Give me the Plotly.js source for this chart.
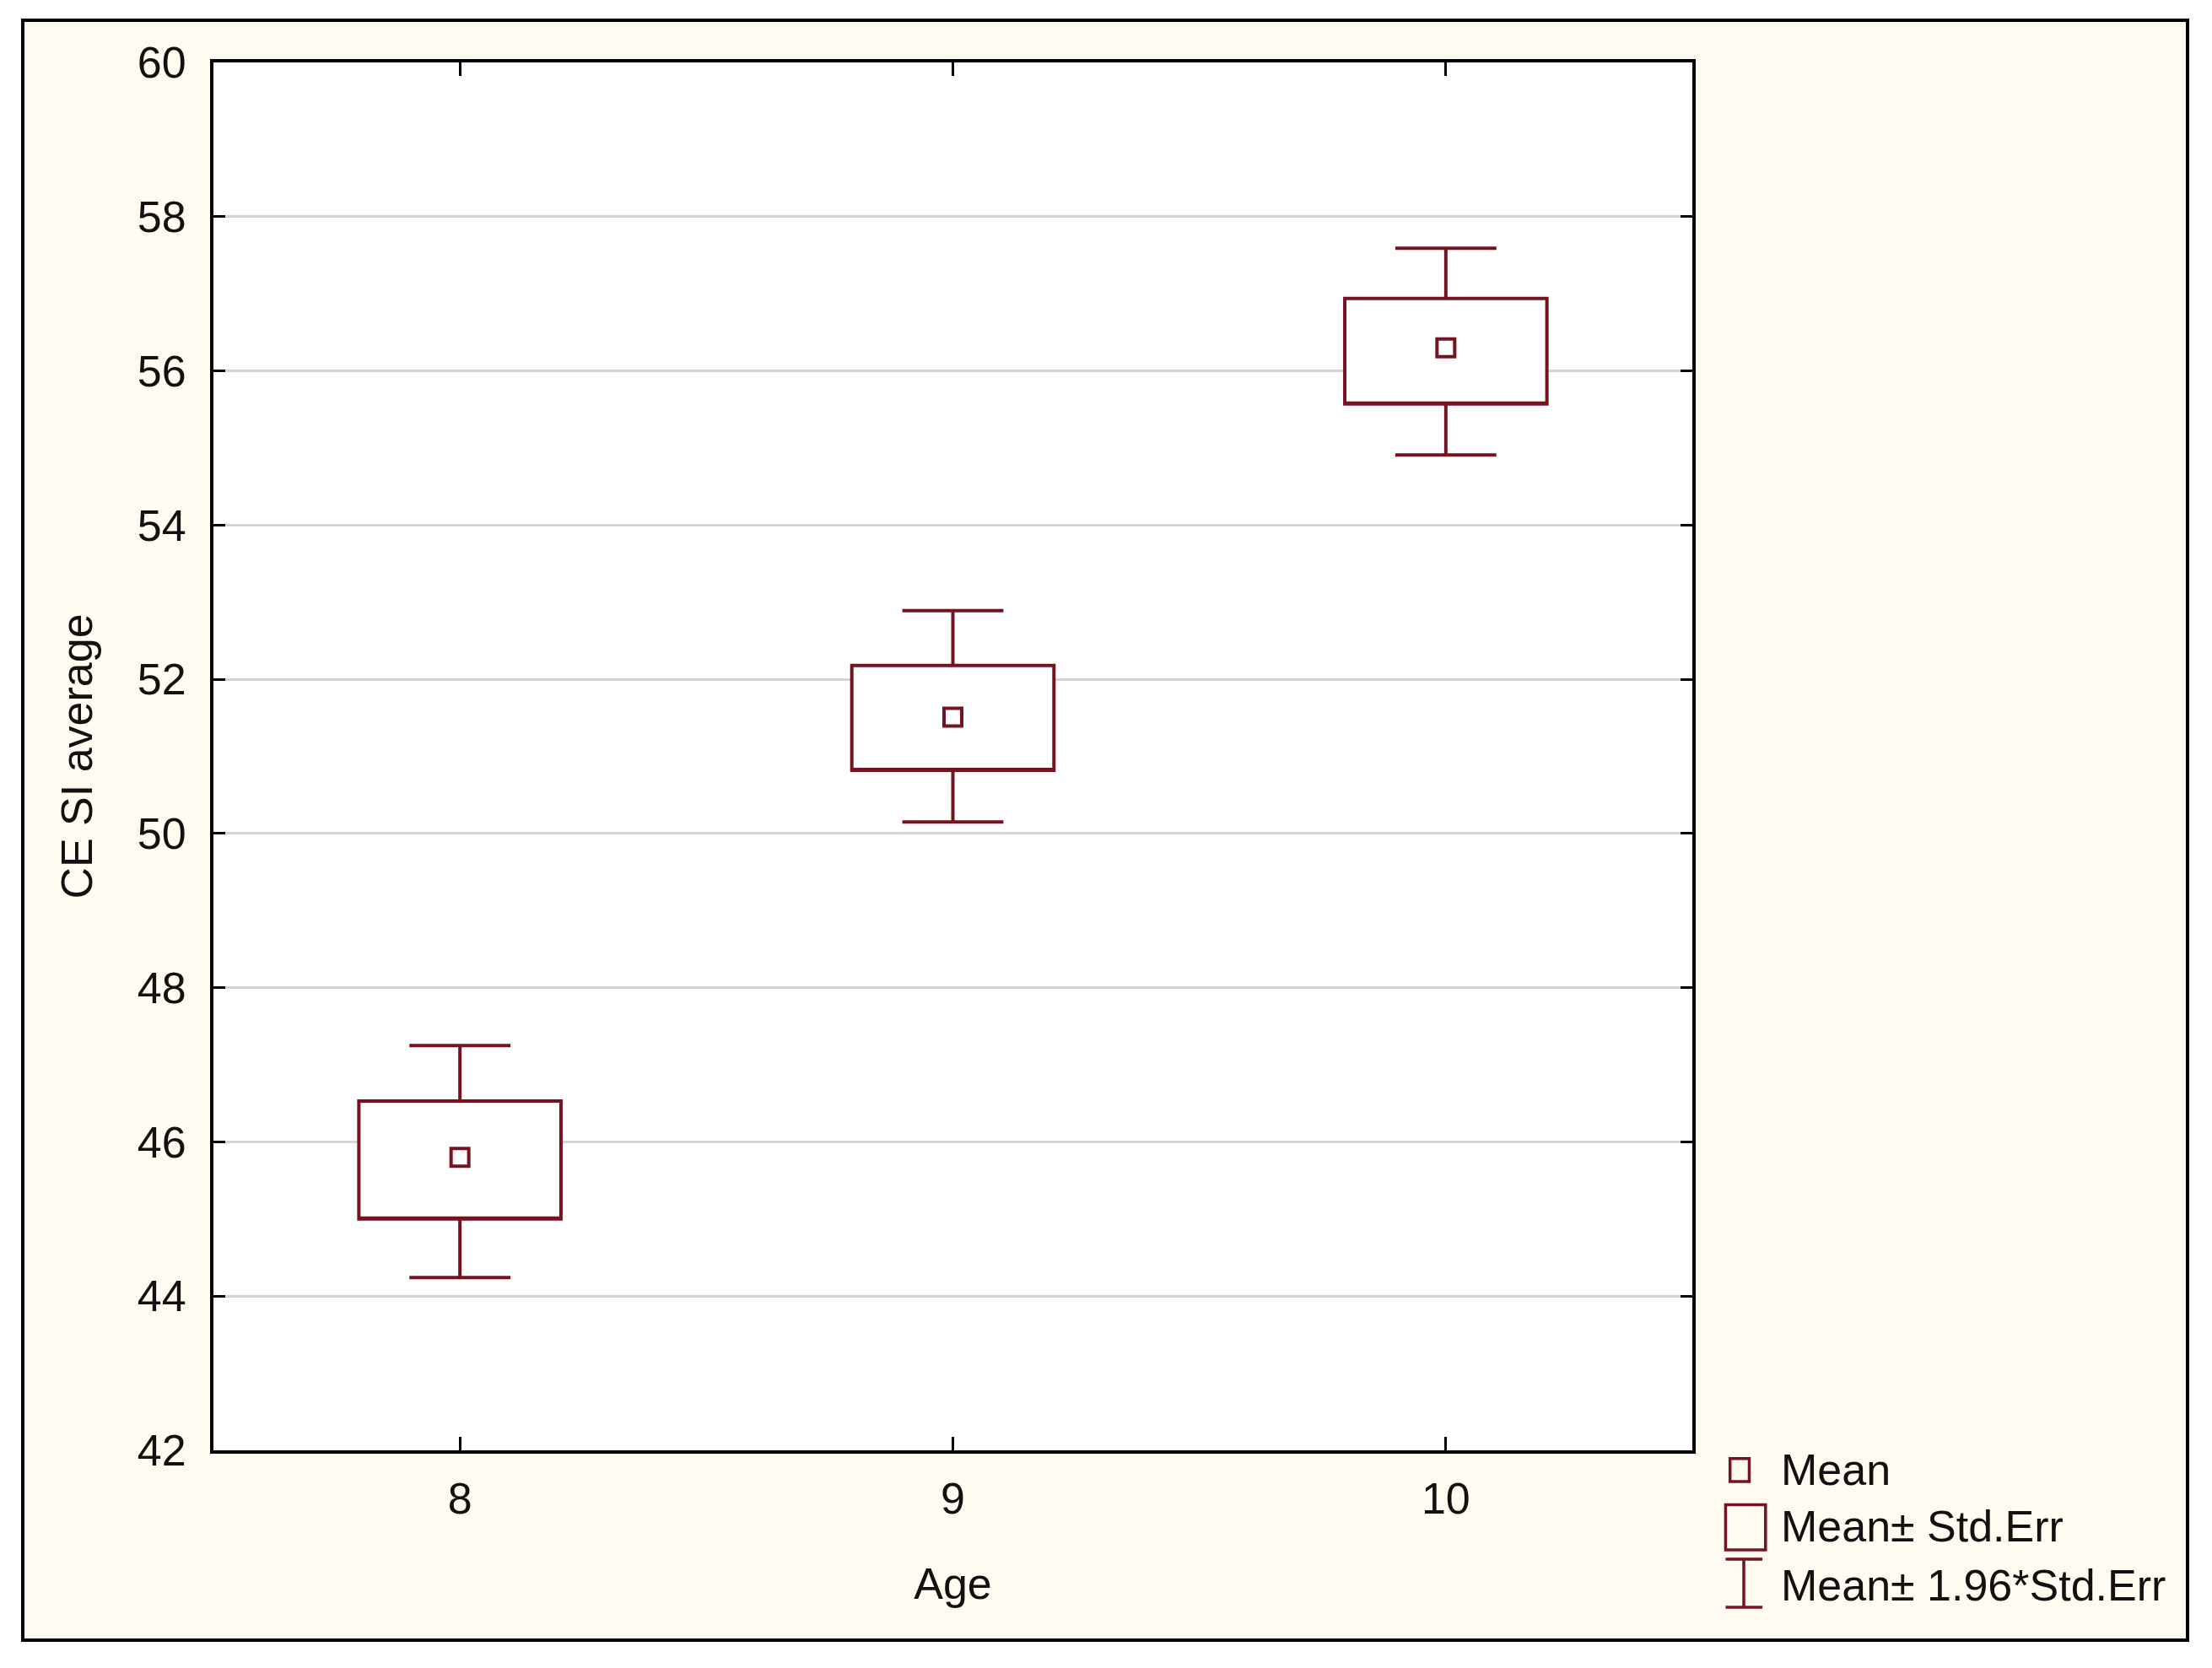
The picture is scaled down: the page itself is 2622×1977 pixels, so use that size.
<!DOCTYPE html>
<html><head><meta charset="utf-8">
<script src="https://cdn.plot.ly/plotly-3.0.1.min.js"></script>
<style>
html,body{margin:0;padding:0;background:#ffffff;}
#chart{position:absolute;left:25px;top:22px;width:2562px;height:1916px;border:4px solid #000;background:#fffbf0;}
</style></head><body><div id="chart"></div>
<script>
// ---- data ----
const ages = [8, 9, 10];
const means = [45.80, 51.51, 56.30];
const seLow = [45.00, 50.82, 55.57];
const seHigh = [46.53, 52.18, 56.94];
const ciLow = [44.24, 50.15, 54.91];
const ciHigh = [47.25, 52.89, 57.59];
const yTickVals = [42, 44, 46, 48, 50, 52, 54, 56, 58, 60];
const xTickVals = [8, 9, 10];
const xTickText = ['8', '9', '10'];
const legendLabels = ['Mean', 'Mean\u00B1 Std.Err', 'Mean\u00B1 1.96*Std.Err'];
const xTitle = 'Age';
const yTitle = 'CE SI average';

const maroon = '#731420';
const FONT = "'Liberation Sans', Arial, sans-serif";

const boxTrace = {
  type: 'box', x: ages,
  q1: seLow, median: seLow, q3: seHigh,
  lowerfence: ciLow, upperfence: ciHigh,
  width: 0.41, whiskerwidth: 0.5,
  fillcolor: '#ffffff',
  line: {color: maroon, width: 4},
  boxpoints: false, showlegend: false, hoverinfo: 'skip'
};
const meanTrace = {
  type: 'scatter', mode: 'markers', x: ages, y: means,
  marker: {symbol: 'square-open', size: 21, color: maroon, line: {color: maroon, width: 4}},
  showlegend: false, hoverinfo: 'skip'
};

// legend (paper coords, right of plot): labels + drawn key icons
const legRowsY = [-0.014, -0.055, -0.097];
const annotations = legendLabels.map((t, i) => ({
  xref: 'paper', yref: 'paper', x: 1.0588, y: legRowsY[i], xanchor: 'left', yanchor: 'middle',
  text: t, showarrow: false, font: {family: FONT, size: 52, color: '#111'}
}));
const keyLine = {color: maroon, width: 3.5};
const shapes = [
  // Mean key: small square
  {type: 'rect', xref: 'paper', yref: 'paper', x0: 1.0255, x1: 1.0385, y0: -0.0225, y1: -0.0060, line: keyLine, fillcolor: 'rgba(0,0,0,0)'},
  // Mean ± SE key: box
  {type: 'rect', xref: 'paper', yref: 'paper', x0: 1.0225, x1: 1.0495, y0: -0.0717, y1: -0.0392, line: keyLine, fillcolor: 'rgba(0,0,0,0)'},
  // Mean ± 1.96*SE key: I-beam
  {type: 'path', xref: 'paper', yref: 'paper', path: '', line: keyLine}
];
// I-beam path built in paper units converted later (needs pixel-free paper path): use three line shapes instead
shapes.pop();
shapes.push(
  {type: 'line', xref: 'paper', yref: 'paper', x0: 1.0348, x1: 1.0348, y0: -0.0784, y1: -0.1131, line: keyLine},
  {type: 'line', xref: 'paper', yref: 'paper', x0: 1.0225, x1: 1.0474, y0: -0.0784, y1: -0.0784, line: keyLine},
  {type: 'line', xref: 'paper', yref: 'paper', x0: 1.0225, x1: 1.0474, y0: -0.1131, y1: -0.1131, line: keyLine}
);

const layout = {
  width: 2562, height: 1916,
  margin: {l: 224, r: 585, t: 48, b: 223},
  paper_bgcolor: '#fffbf0', plot_bgcolor: '#ffffff',
  font: {family: FONT, size: 52, color: '#111'},
  showlegend: false,
  xaxis: {
    range: [7.5, 10.5], tickvals: xTickVals, ticktext: xTickText,
    showgrid: false, zeroline: false,
    showline: true, linecolor: '#000', linewidth: 4, mirror: 'ticks',
    ticks: 'inside', ticklen: 16, tickwidth: 3, tickcolor: '#000',
    ticklabelstandoff: 9,
    tickfont: {family: FONT, size: 52, color: '#111'},
    title: {text: xTitle, standoff: 55, font: {family: FONT, size: 52, color: '#111'}}
  },
  yaxis: {
    range: [42, 60], tickvals: yTickVals,
    showgrid: true, gridcolor: '#d4d4d4', gridwidth: 3, zeroline: false,
    showline: true, linecolor: '#000', linewidth: 4, mirror: 'ticks',
    ticks: 'inside', ticklen: 14, tickwidth: 3, tickcolor: '#000',
    ticklabelstandoff: 18,
    tickfont: {family: FONT, size: 52, color: '#111'},
    title: {text: yTitle, standoff: 38, font: {family: FONT, size: 52, color: '#111'}}
  },
  annotations: annotations,
  shapes: shapes
};

Plotly.newPlot('chart', [boxTrace, meanTrace], layout, {staticPlot: true, displayModeBar: false});
</script></body></html>
